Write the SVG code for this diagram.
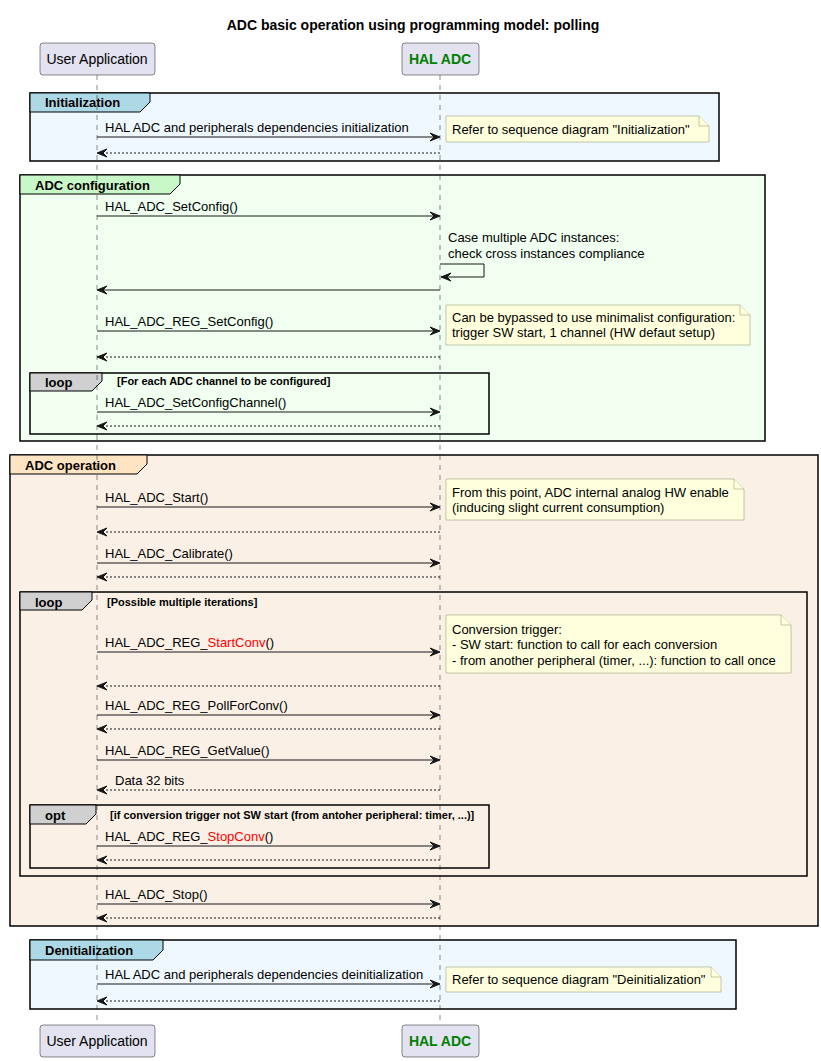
<svg xmlns="http://www.w3.org/2000/svg" width="821" height="1061" viewBox="0 0 821 1061">
<style>
text{font-family:"Liberation Sans",Arial,sans-serif;font-size:13px;fill:#000}
.title{font-weight:bold;text-anchor:middle;font-size:14px}
.pbox{fill:#E2E2F0;stroke:#181818;stroke-width:0.5}
.pname{text-anchor:middle;font-size:14px}
.hal{font-weight:bold;fill:#008000}
.grp{stroke:#000;stroke-width:1.5}
.tab{stroke:#000;stroke-width:1}
.glabel{font-weight:bold}
.cond{font-weight:bold;font-size:11px}
.life{stroke:#181818;stroke-width:0.5;stroke-dasharray:5,5;fill:none}
.msg{stroke:#181818;stroke-width:1;fill:none}
.ret{stroke:#181818;stroke-width:1;fill:none;stroke-dasharray:2,2}
.head{fill:#181818;stroke:#181818;stroke-width:1}
.note{fill:#FEFFDD;stroke:#8C8C6C;stroke-width:0.5}
.red{fill:#FF0000}
</style>
<rect width="821" height="1061" fill="#FFFFFF"/>
<text class="title" x="413" y="30">ADC basic operation using programming model: polling</text>

<g id="groups">
  <g id="grp-init">
    <rect class="grp" x="30" y="93" width="689" height="68" fill="#F0F8FF"/>
    <path class="tab" d="M30,93 L150,93 L150,102 L140,112 L30,112 Z" fill="#ADD8E6"/>
    <text class="glabel" x="45" y="107">Initialization</text>
  </g>
  <g id="grp-config">
    <rect class="grp" x="20" y="175" width="745" height="266" fill="#F0FFF0"/>
    <path class="tab" d="M20,175 L180,175 L180,184 L170,194 L20,194 Z" fill="#C8F7C8"/>
    <text class="glabel" x="35" y="190">ADC configuration</text>
  </g>
  <g id="grp-loop1">
    <rect class="grp" x="30" y="373" width="459" height="61" fill="none"/>
    <path class="tab" d="M30,373 L102,373 L102,381 L92,391 L30,391 Z" fill="#D0D0D0"/>
    <text class="glabel" x="45" y="387">loop</text>
    <text class="cond" x="117" y="385">[For each ADC channel to be configured]</text>
  </g>
  <g id="grp-operation">
    <rect class="grp" x="10" y="455" width="808" height="471" fill="#FAF0E6"/>
    <path class="tab" d="M10,455 L147,455 L147,464 L137,474 L10,474 Z" fill="#FFE4C4"/>
    <text class="glabel" x="25" y="470">ADC operation</text>
  </g>
  <g id="grp-loop2">
    <rect class="grp" x="20" y="592" width="787" height="284" fill="none"/>
    <path class="tab" d="M20,592 L92,592 L92,600 L82,610 L20,610 Z" fill="#D0D0D0"/>
    <text class="glabel" x="35" y="607">loop</text>
    <text class="cond" x="107" y="606">[Possible multiple iterations]</text>
  </g>
  <g id="grp-opt">
    <rect class="grp" x="30" y="805" width="459" height="63" fill="none"/>
    <path class="tab" d="M30,805 L96,805 L96,814 L86,824 L30,824 Z" fill="#D0D0D0"/>
    <text class="glabel" x="45" y="820">opt</text>
    <text class="cond" x="110" y="819">[if conversion trigger not SW start (from antoher peripheral: timer, ...)]</text>
  </g>
  <g id="grp-deinit">
    <rect class="grp" x="30" y="940" width="706" height="69" fill="#F0F8FF"/>
    <path class="tab" d="M30,940 L163,940 L163,950 L153,960 L30,960 Z" fill="#ADD8E6"/>
    <text class="glabel" x="45" y="955">Denitialization</text>
  </g>
</g>

<g id="lifelines">
  <line class="life" x1="97" y1="75" x2="97" y2="1025"/>
  <line class="life" x1="440" y1="75" x2="440" y2="1025"/>
</g>

<g id="user-app">
  <rect class="pbox" x="40" y="43" width="115" height="32" rx="3"/>
  <text class="pname" x="97" y="64">User Application</text>
  <rect class="pbox" x="40" y="1025" width="115" height="32" rx="3"/>
  <text class="pname" x="97" y="1046">User Application</text>
</g>
<g id="hal-adc">
  <rect class="pbox" x="402" y="43" width="77" height="32" rx="3"/>
  <text class="pname hal" x="440" y="64">HAL ADC</text>
  <rect class="pbox" x="402" y="1025" width="77" height="32" rx="3"/>
  <text class="pname hal" x="440" y="1046">HAL ADC</text>
</g>

<g id="connectors">
  <!-- Initialization -->
  <line class="msg" x1="97" y1="137" x2="439" y2="137"/><path class="head" d="M430,133 L440,137 L430,141 L434,137 Z"/>
  <text x="105" y="132">HAL ADC and peripherals dependencies initialization</text>
  <line class="ret" x1="98" y1="153" x2="440" y2="153"/><path class="head" d="M107,149 L97,153 L107,157 L103,153 Z"/>

  <!-- Config -->
  <line class="msg" x1="97" y1="216" x2="439" y2="216"/><path class="head" d="M430,212 L440,216 L430,220 L434,216 Z"/>
  <text x="105" y="211">HAL_ADC_SetConfig()</text>
  <polyline class="msg" points="440,264 484,264 484,277 441,277"/><path class="head" d="M451,273 L441,277 L451,281 L447,277 Z"/>
  <text x="448" y="242">Case multiple ADC instances:</text>
  <text x="448" y="258">check cross instances compliance</text>
  <line class="msg" x1="98" y1="290" x2="440" y2="290"/><path class="head" d="M107,286 L97,290 L107,294 L103,290 Z"/>
  <line class="msg" x1="97" y1="331" x2="439" y2="331"/><path class="head" d="M430,327 L440,331 L430,335 L434,331 Z"/>
  <text x="105" y="326">HAL_ADC_REG_SetConfig()</text>
  <line class="ret" x1="98" y1="357" x2="440" y2="357"/><path class="head" d="M107,353 L97,357 L107,361 L103,357 Z"/>
  <line class="msg" x1="97" y1="412" x2="439" y2="412"/><path class="head" d="M430,408 L440,412 L430,416 L434,412 Z"/>
  <text x="105" y="407">HAL_ADC_SetConfigChannel()</text>
  <line class="ret" x1="98" y1="426" x2="440" y2="426"/><path class="head" d="M107,422 L97,426 L107,430 L103,426 Z"/>

  <!-- Operation -->
  <line class="msg" x1="97" y1="507" x2="439" y2="507"/><path class="head" d="M430,503 L440,507 L430,511 L434,507 Z"/>
  <text x="105" y="502">HAL_ADC_Start()</text>
  <line class="ret" x1="98" y1="532" x2="440" y2="532"/><path class="head" d="M107,528 L97,532 L107,536 L103,532 Z"/>
  <line class="msg" x1="97" y1="563" x2="439" y2="563"/><path class="head" d="M430,559 L440,563 L430,567 L434,563 Z"/>
  <text x="105" y="558">HAL_ADC_Calibrate()</text>
  <line class="ret" x1="98" y1="577" x2="440" y2="577"/><path class="head" d="M107,573 L97,577 L107,581 L103,577 Z"/>

  <line class="msg" x1="97" y1="652" x2="439" y2="652"/><path class="head" d="M430,648 L440,652 L430,656 L434,652 Z"/>
  <text x="105" y="647">HAL_ADC_REG_<tspan class="red">StartConv</tspan>()</text>
  <line class="ret" x1="98" y1="686" x2="440" y2="686"/><path class="head" d="M107,682 L97,686 L107,690 L103,686 Z"/>
  <line class="msg" x1="97" y1="715" x2="439" y2="715"/><path class="head" d="M430,711 L440,715 L430,719 L434,715 Z"/>
  <text x="105" y="710">HAL_ADC_REG_PollForConv()</text>
  <line class="ret" x1="98" y1="729" x2="440" y2="729"/><path class="head" d="M107,725 L97,729 L107,733 L103,729 Z"/>
  <line class="msg" x1="97" y1="760" x2="439" y2="760"/><path class="head" d="M430,756 L440,760 L430,764 L434,760 Z"/>
  <text x="105" y="755">HAL_ADC_REG_GetValue()</text>
  <line class="ret" x1="98" y1="790" x2="440" y2="790"/><path class="head" d="M107,786 L97,790 L107,794 L103,790 Z"/>
  <text x="115" y="785">Data 32 bits</text>
  <line class="msg" x1="97" y1="846" x2="439" y2="846"/><path class="head" d="M430,842 L440,846 L430,850 L434,846 Z"/>
  <text x="105" y="841">HAL_ADC_REG_<tspan class="red">StopConv</tspan>()</text>
  <line class="ret" x1="98" y1="860" x2="440" y2="860"/><path class="head" d="M107,856 L97,860 L107,864 L103,860 Z"/>
  <line class="msg" x1="97" y1="904" x2="439" y2="904"/><path class="head" d="M430,900 L440,904 L430,908 L434,904 Z"/>
  <text x="105" y="899">HAL_ADC_Stop()</text>
  <line class="ret" x1="98" y1="918" x2="440" y2="918"/><path class="head" d="M107,914 L97,918 L107,922 L103,918 Z"/>

  <!-- Deinit -->
  <line class="msg" x1="97" y1="984" x2="439" y2="984"/><path class="head" d="M430,980 L440,984 L430,988 L434,984 Z"/>
  <text x="105" y="979">HAL ADC and peripherals dependencies deinitialization</text>
  <line class="ret" x1="98" y1="1001" x2="440" y2="1001"/><path class="head" d="M107,997 L97,1001 L107,1005 L103,1001 Z"/>
</g>

<g id="notes">
  <g id="note-init">
    <path class="note" d="M446,116 L699,116 L709,126 L709,142 L446,142 Z"/>
    <path class="note" d="M699,116 L699,126 L709,126" fill="none"/>
    <text x="452" y="134">Refer to sequence diagram "Initialization"</text>
  </g>
  <g id="note-bypass">
    <path class="note" d="M446,305 L740,305 L750,315 L750,345 L446,345 Z"/>
    <path class="note" d="M740,305 L740,315 L750,315" fill="none"/>
    <text x="452" y="322">Can be bypassed to use minimalist configuration:</text>
    <text x="452" y="337">trigger SW start, 1 channel (HW defaut setup)</text>
  </g>
  <g id="note-start">
    <path class="note" d="M446,479 L734,479 L744,489 L744,520 L446,520 Z"/>
    <path class="note" d="M734,479 L734,489 L744,489" fill="none"/>
    <text x="452" y="497">From this point, ADC internal analog HW enable</text>
    <text x="452" y="512">(inducing slight current consumption)</text>
  </g>
  <g id="note-trigger">
    <path class="note" d="M446,615 L781,615 L791,625 L791,673 L446,673 Z"/>
    <path class="note" d="M781,615 L781,625 L791,625" fill="none"/>
    <text x="452" y="634">Conversion trigger:</text>
    <text x="452" y="649">- SW start: function to call for each conversion</text>
    <text x="452" y="665">- from another peripheral (timer, ...): function to call once</text>
  </g>
  <g id="note-deinit">
    <path class="note" d="M446,967 L711,967 L721,977 L721,992 L446,992 Z"/>
    <path class="note" d="M711,967 L711,977 L721,977" fill="none"/>
    <text x="452" y="984">Refer to sequence diagram "Deinitialization"</text>
  </g>
</g>
</svg>
